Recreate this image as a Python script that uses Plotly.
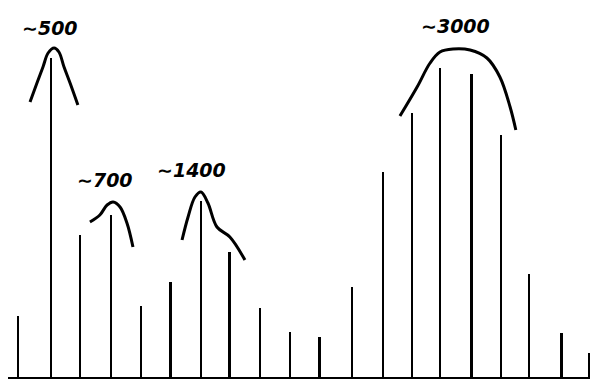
import plotly.graph_objects as go

# Line spectrum: line positions (relative units) and relative intensities
line_pos = [0.00, 1.10, 2.06, 3.09, 4.09, 5.08, 6.08, 7.04, 8.04, 9.04,
            10.03, 11.10, 12.13, 13.09, 14.02, 15.08, 16.05, 16.98, 18.07, 19.00]
intensity = [62, 320, 143, 163, 72, 96, 177, 126, 70, 46,
             41, 91, 206, 265, 310, 304, 243, 104, 45, 25]

# Hand-drawn envelope curves (x in line-position units, y in intensity units)
env1_x = [0.40, 0.63, 0.83, 1.00, 1.20, 1.36, 1.53, 1.73, 1.99]
env1_y = [276, 295, 311, 325, 330, 326, 311, 295, 273]
env2_x = [2.39, 2.72, 2.96, 3.16, 3.39, 3.62, 3.82]
env2_y = [156, 163, 173, 176, 171, 155, 131]
env3_x = [5.45, 5.65, 5.88, 6.08, 6.31, 6.61, 7.04, 7.54]
env3_y = [138, 161, 181, 186, 175, 151, 141, 118]
env4_x = [12.69, 13.26, 13.69, 14.02, 14.45, 15.02, 15.58, 16.01, 16.35, 16.54]
env4_y = [262, 291, 315, 326, 329, 328, 320, 301, 271, 248]

# Labels
label_text = ["∼500", "∼700", "∼1400", "∼3000"]
label_x = [1.06, 2.89, 5.75, 14.52]
label_y = [350, 198, 208, 352]

fig = go.Figure()
fig.add_trace(go.Bar(x=line_pos, y=intensity, width=0.065,
                     marker=dict(color="black", line=dict(width=0)),
                     showlegend=False, hoverinfo="skip"))
for ex, ey in [(env1_x, env1_y), (env2_x, env2_y), (env3_x, env3_y), (env4_x, env4_y)]:
    fig.add_trace(go.Scatter(x=ex, y=ey, mode="lines",
                             line=dict(color="black", width=3, shape="spline", smoothing=1.0),
                             showlegend=False, hoverinfo="skip"))
for t, x, y in zip(label_text, label_x, label_y):
    fig.add_annotation(x=x, y=y, text="<i><b>" + t + "</b></i>", showarrow=False,
                       font=dict(family="DejaVu Sans", size=19, color="black"),
                       xanchor="center", yanchor="middle")

# Baseline
fig.add_shape(type="line", xref="x", yref="y", x0=-0.37, x1=19.3, y0=0, y1=0,
              line=dict(color="black", width=2))

fig.update_layout(
    width=590, height=372,
    margin=dict(l=0, r=0, t=0, b=0),
    paper_bgcolor="white", plot_bgcolor="white",
    xaxis=dict(range=[-0.332, 19.27], visible=False),
    yaxis=dict(range=[-2, 370], visible=False),
    bargap=0,
)
fig.write_html("out.html")
